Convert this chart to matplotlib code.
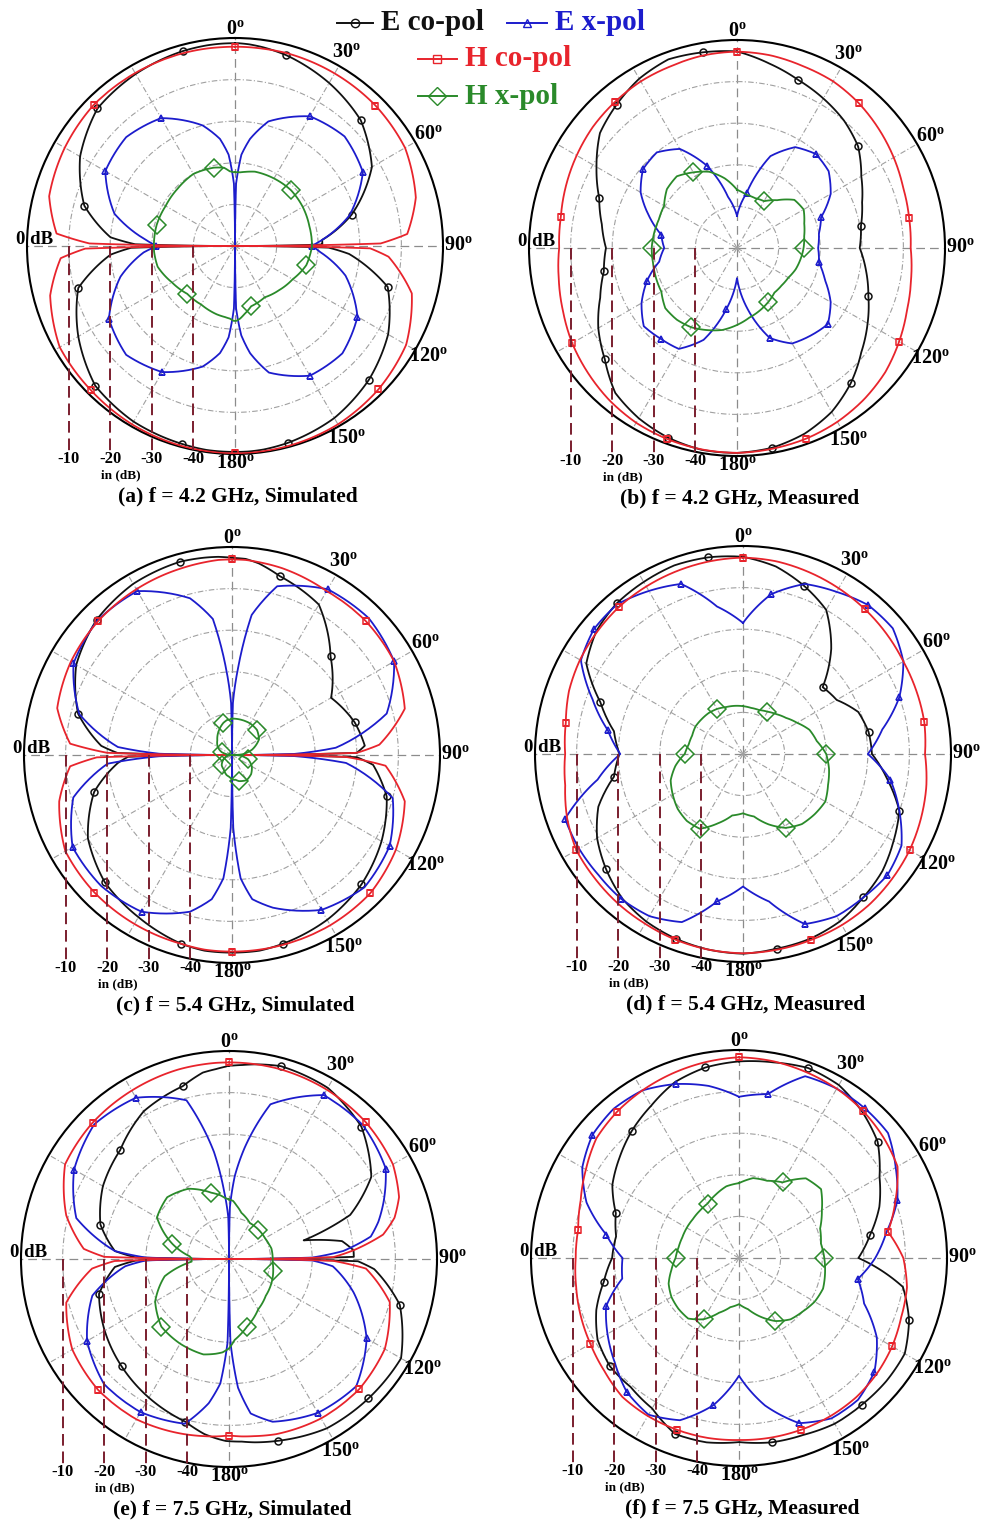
import numpy as np
import matplotlib
matplotlib.use("Agg")
import matplotlib.pyplot as plt
from matplotlib.lines import Line2D

plt.rcParams["font.family"] = ["Liberation Serif", "DejaVu Serif"]
plt.rcParams["font.weight"] = "bold"
plt.rcParams["mathtext.fontset"] = "custom"
plt.rcParams["mathtext.rm"] = "Liberation Serif:bold"

# ---------------- data (gain in dB, angle in degrees, clockwise from top) ----------------
sim_ang = [0, 1, 4, 8, 15, 30, 45, 60, 75, 86, 89, 90, 91, 94, 105, 120, 135, 150, 165, 172,
           176, 179, 180, 181, 184, 188, 195, 210, 225, 240, 255, 266, 269, 270, 271, 274, 285,
           300, 315, 330, 345, 352, 356, 359]
e_ang = [0, 1, 4, 8, 15, 30, 45, 60, 70, 76, 81, 86, 89, 90, 91, 94, 105, 120, 135, 150, 165,
         172, 176, 179, 180, 181, 184, 188, 195, 210, 225, 240, 255, 266, 269, 270, 271, 274,
         285, 300, 315, 330, 345, 352, 356, 359]
meas_ang = list(range(0, 360, 10))

# (a) 4.2 GHz simulated
a_eco = [-1.25, -1.25, -1.4, -1.75, -2.5, -4.75, -7.25, -12, -21, -29, -29, -50, -27.5, -22.5, -12,
         -7.5, -4.5, -2.25, -1, -0.6, -0.5, -0.5, -0.5, -0.5, -0.5, -0.5, -0.75, -1.25, -2.5, -6.5,
         -11, -20, -25, -50, -26, -20, -12.5, -7, -3.25, -2.25, -1.5, -1.3, -1.25, -1.25]
a_exp = [-50, -35, -28, -24, -19, -14, -12.75, -14.5, -21.5, -29, -31, -31.5, -31, -29.5, -22.5,
         -16, -13.5, -14, -18.5, -24, -28.5, -35, -50, -35, -28, -24, -20, -15, -13, -15,
         -21.5, -28, -30.5, -31, -30.5, -28.5, -20, -14, -13, -14.5, -20, -24, -28, -35]
a_hco = [-2.1, -2.1, -2.1, -2.1, -2, -2.1, -2.25, -2.8, -5, -8.5, -15, -50, -17.5, -13, -6,
         -2.5, -1.25, -0.5, -0.25, -0.2, -0.15, -0.15, -0.15, -0.15, -0.15, -0.2, -0.25, -0.5, -1, -1.35,
         -4, -8, -14, -50, -15, -7, -3.75, -2.75, -2, -2, -2, -2.05, -2.1, -2.1]
a_hxp = [-32.25, -32.25, -32.25, -32, -31.5, -31.25, -31, -31.2, -31.5, -31.5, -31.5, -31.5, -31.5, -31.7, -32.25,
         -34, -35, -35.75, -35, -33.5, -32.5, -32, -32, -32, -32.5, -32.75, -33, -33.75, -33.75, -32.5,
         -30.75, -30.5, -30.5, -30.5, -30.5, -30.5, -30.5, -30.75, -30.5, -30, -30.5, -31, -32, -32.25]

# (b) 4.2 GHz measured
b_eco = [-2.75, -5, -7, -8.5, -10, -12, -15.5, -18, -19.75, -20.5, -18.5, -16.4, -13.75, -11, -7.5, -4.5,
         -2.5, -1.25, -0.75, -0.75, -1.5, -2.75, -4.5, -8.5, -11.5, -15, -17.5, -18.5, -17, -14.75,
         -11, -7, -5, -3, -1.75, -2.25]
b_exp = [-42.25, -36.5, -26.5, -22, -20.5, -21.25, -24, -28.5, -30, -30.5, -30, -27.5, -24, -21.5, -22.5, -23.5,
         -27, -35, -42.75, -35, -26.5, -22, -21.5, -20.75, -23.5, -27, -31, -32.5, -31.5, -27.5,
         -23.25, -20.5, -20, -22.5, -29, -37.5]
b_hco = [-2.8, -3, -3.5, -3.75, -4.5, -5.5, -6.5, -7.5, -8, -8.25, -7.5, -6.5, -5, -3.5, -2.5, -1.75,
         -1.25, -1, -0.75, -0.85, -1.1, -1.5, -2.25, -3.25, -4.25, -5.5, -6.5, -7.25, -7, -6.25,
         -5.5, -4.75, -4.25, -3.75, -3.5, -3]
b_hxp = [-36, -37, -37.25, -37, -35, -32, -31.5, -32.8, -33.6, -34, -34.5, -35, -35.75, -36, -36, -35,
         -34, -33, -31.5, -30, -29, -28, -27.5, -27.5, -29, -29.25, -29.5, -29.5, -29.75, -30,
         -29.75, -28, -27.5, -29, -30.5, -33]

# (c) 5.4 GHz simulated
c_eco = [-2.65, -2.65, -2.75, -3.5, -5.5, -8.25, -16.5, -22.5, -19.5, -18, -20, -50, -20, -16, -11.5,
         -8.5, -6, -4.25, -3, -2.5, -2.5, -2.5, -2.5, -2.5, -2.5, -2.5, -3, -5, -6.75, -10,
         -15.7, -22.5, -25, -50, -22.5, -18.5, -11.7, -6.75, -4, -2.5, -1.9, -2.1, -2.25, -2.5]
c_exp = [-50, -37.5, -29, -16, -8, -4, -3.5, -5, -11.5, -25, -35, -50, -35, -22.5, -10,
         -6.25, -5, -7, -12, -15, -20.3, -32.5, -50, -32.5, -20.3, -15, -11, -6.5, -5.5, -5.75,
         -10.5, -20, -32.5, -50, -32.5, -22.5, -12, -6, -4.25, -4.5, -11, -17, -29, -37.5]
c_hco = [-3, -3, -3, -3.2, -3.5, -4.5, -4.5, -5, -7, -14.5, -20, -50, -22.5, -13, -7,
         -4.5, -3, -2.75, -2.75, -2.75, -2.75, -2.75, -2.75, -2.75, -2.75, -2.75, -3, -3.1, -3.25, -3.75,
         -7, -11, -17.5, -50, -20, -11, -6.5, -5.25, -4.5, -4, -3.5, -3.2, -3, -3]
c_hxp = [-41.25, -41.25, -41.25, -41.25, -41.25, -41.25, -41.5, -42.5, -45, -47.5, -49, -50, -49, -48, -46,
         -44.5, -43.5, -43, -43.5, -44, -44, -44.25, -44.25, -44.25, -44.5, -44.75, -45, -46, -46.5, -47.5,
         -48.5, -49.5, -50, -50, -50, -49.5, -47.5, -46, -45, -43.5, -42, -41.5, -41.5, -41.25]

# (d) 5.4 GHz measured
d_eco = [-2.6, -4.25, -7, -10, -17, -25, -24, -20.5, -19.35, -19, -14.75, -10, -8.2, -6.25, -5, -3.5,
         -2.75, -2.5, -2, -2.25, -2.75, -3.5, -4.75, -7, -9.5, -13, -18.5, -20.3, -18.5, -13.5,
         -6.5, -4, -2.75, -2.25, -1.75, -2]
d_exp = [-18.5, -11, -6.5, -5, -3.25, -3, -5.5, -10, -16, -20, -14, -10, -6, -4.7, -5, -5,
         -6.5, -14, -18.15, -14, -7, -5, -4.5, -4.7, -4.5, -4.5, -14.5, -20.5, -17, -11.5,
         -5, -3.25, -3, -4.75, -6.5, -14]
d_hco = [-2.8, -3, -3.5, -4, -4.5, -5, -5.5, -5.65, -5.75, -6.25, -5.25, -4.5, -3.75, -3.25, -2.75, -2.5,
         -2.4, -2.25, -2.1, -2.25, -2.5, -2.9, -3.15, -3.5, -3.75, -5, -6.6, -7.25, -6.75, -5.5,
         -4.75, -4.25, -3.75, -3.5, -3.25, -3]
d_hxp = [-38.5, -38.75, -38.75, -38.25, -37.5, -36.5, -35, -33, -32, -30, -29, -28.25, -27.15, -27.5, -28, -29.5,
         -32, -34.75, -35.75, -35, -32.25, -29.25, -29, -29.5, -30.5, -31.5, -33.5, -36, -36.75, -37,
         -36.8, -37, -37.15, -37.5, -38, -38.25]

# (e) 7.5 GHz simulated
e_eco = [-3.5, -3.5, -3.25, -2.75, -2, -2.5, -5, -10.5, -19, -31.5, -22.5, -20, -20, -50, -19,
         -15, -7.5, -2.25, -2.6, -3, -4.75, -5.5, -6, -6.15, -6.2, -6.25, -6.75, -7.5, -9.5, -11.5,
         -13.5, -15.5, -17.65, -22.5, -27.5, -50, -27.5, -22.5, -18, -15, -13, -9, -7, -4.75, -4.25, -3.75]
e_exp = [-50, -37.5, -30, -23, -11.5, -4.5, -4.5, -6.5, -10.5, -13, -15.5, -22.5, -30, -50, -30,
         -25, -19, -11.8, -6.75, -7.3, -9.5, -12.5, -19, -30, -50, -30, -20, -15, -9, -7.5,
         -7.5, -10.6, -16, -25, -30, -50, -30, -22.5, -12, -7, -4.2, -5.25, -10.5, -24, -34, -40]
e_hco = [-2.75, -2.75, -2.75, -2.75, -2.75, -3, -3.5, -4.5, -6.5, -9, -12.5, -20, -25, -50, -25,
         -17, -10, -6.75, -5.75, -5.75, -6.4, -7, -7.25, -7.5, -7.5, -7.5, -7.25, -7, -6.5, -5.5,
         -5.5, -6.5, -9.5, -17, -22.5, -50, -20, -15, -9.5, -4.5, -3.65, -3.25, -2.85, -2.8, -2.75, -2.75]
e_hxp = [-35.7, -35.75, -36, -37, -38.5, -40, -40, -40, -39.75, -39.5, -39.5, -39.5, -39.5, -39.5, -39.5,
         -39.5, -39, -38.25, -37.5, -36, -33.2, -31.5, -30.5, -29, -28.5, -28.25, -27.5, -27, -26.25, -26.5,
         -27, -29.5, -34, -41, -41, -41, -41, -40.5, -35.9, -30, -29, -30.5, -33.5, -34.5, -35.25, -35.6]

# (f) 7.5 GHz measured
f_eco = [-2.75, -2.25, -1.4, -2, -4, -6.5, -11, -14.1, -18, -21.3, -10, -6.5, -4, -3.85, -4, -4,
         -4.75, -5, -5.75, -5, -5, -8.25, -9.5, -9.5, -10.75, -13.5, -17, -19.5, -20, -18.5,
         -14.85, -12.5, -10, -7.75, -5, -3.5]
f_exp = [-11.25, -10, -3.5, -3, -3, -3.25, -6.5, -9.5, -14, -17.25, -21, -18, -11.75, -7.5, -5.5, -5.5,
         -7.75, -14, -21.7, -14, -8.5, -6.5, -8, -11, -13.5, -16, -21.5, -22, -17.6, -11,
         -6.5, -4, -3.15, -3.5, -5.5, -8]
f_hco = [-1.75, -2, -2.5, -3, -3.75, -4.75, -6, -10, -13.65, -10.5, -9, -8.5, -7.5, -6.75, -6.25, -6.1,
         -6.1, -6.15, -6.25, -6.1, -6.1, -6.15, -6.4, -7.75, -8.75, -9.5, -10.25, -10.75, -10.75, -9.5,
         -7.5, -5.25, -4.25, -3.5, -2.85, -2.25]
f_hxp = [-32, -30.5, -30.25, -29, -25, -24.25, -27, -29.25, -30, -29.5, -29, -28.5, -29, -30, -30.75, -32.5,
         -35, -37.5, -38.9, -38, -36, -33, -31, -31, -31.25, -32, -33.5, -34.75, -35.25, -35.5,
         -35.5, -35.5, -35.25, -34.9, -33.75, -32.5]

ring_db = [-10, -20, -30, -40]
angle_ticks = [0, 30, 60, 90, 120, 150, 180]
captions = ["(a) f = 4.2 GHz, Simulated", "(b) f = 4.2 GHz, Measured",
            "(c) f = 5.4 GHz, Simulated", "(d) f = 5.4 GHz, Measured",
            "(e) f = 7.5 GHz, Simulated", "(f) f = 7.5 GHz, Measured"]
legend_names = ["E co-pol", "E x-pol", "H co-pol", "H x-pol"]

# ---------------- layout / style ----------------
W, H, R = 987, 1522, 208
centers = [(235, 246), (737, 248), (232, 755), (743, 754), (229, 1259), (739, 1258)]

C_ECO = "#111111"
C_EXP = "#1c1ccc"
C_HCO = "#e8242c"
C_HXP = "#2a8a2a"
MAROON = "#7a1e2e"
GRID = "#a0a0a0"

fig = plt.figure(figsize=(W / 100, H / 100), dpi=100)
fig.patch.set_facecolor("white")


def pick(ang, vals, step, off):
    # marker positions: every `step` degrees, skipping points sitting in the centre
    return [i for i, (a, v) in enumerate(zip(ang, vals)) if a % step == off and v > -49]


def polar_panel(center, ang, eco, exp_, hco, hxp, caption, meas):
    cx, cy = center
    ax = fig.add_axes([(cx - R) / W, 1 - (cy + R) / H, 2 * R / W, 2 * R / H], projection="polar")
    ax.set_theta_zero_location("N")
    ax.set_theta_direction(-1)
    ax.set_ylim(-50, 0)
    ax.set_yticks(ring_db)
    ax.set_yticklabels([])
    ax.set_xticks(np.radians([30, 60, 120, 150, 210, 240, 300, 330]))
    ax.set_xticklabels([])
    ax.grid(True, color=GRID, lw=0.8, ls=(0, (5, 2, 1, 2)))
    ax.spines["polar"].set_linewidth(1.5)
    ax.spines["polar"].set_color("black")
    for t in (0, 90, 180, 270):
        ax.plot([np.radians(t)] * 2, [-50, 0], color="#8c8c8c", lw=0.9, ls=(0, (7, 4)), zorder=1)

    if meas:
        steps = [(30, 20), (30, 10), (40, 0), (60, 30)]
    else:
        steps = [(30, 15), (30, 0), (45, 0), (60, 45)]
    styles = [(eco, C_ECO, "o", 5), (exp_, C_EXP, "^", 5), (hco, C_HCO, "s", 5), (hxp, C_HXP, "D", 9)]
    th = np.radians(np.append(ang, 360))
    for (vals, col, mk, ms), (st, off) in zip(styles, steps):
        v = np.append(vals, vals[0])
        ln, = ax.plot(th, v, color=col, lw=1.3, zorder=3)
        # let the polar projection draw each segment along (theta, r) instead of as a chord
        ln.get_path()._interpolation_steps = 16
        idx = pick(ang, vals, st, off)
        ax.plot(th[idx], v[idx], ls="none", marker=mk, ms=ms, mfc="none", mec=col, mew=1.1, zorder=3)

    # dB scale: dashed verticals from the left half of the horizontal axis
    for d in ring_db:
        x = 0.5 - 0.5 * (d + 50) / 50
        ax.plot([x, x], [0.5, 0.0], transform=ax.transAxes, color=MAROON, lw=1.4,
                ls=(0, (6, 3)), clip_on=False, zorder=4)
        ax.text(x, 0.007, str(d), transform=ax.transAxes, ha="center", va="top", fontsize=12)
    ax.text(0.225, -0.037, "in (dB)", transform=ax.transAxes, ha="center", va="top", fontsize=9.5)
    ax.text(0.018, 0.515, "0 dB", transform=ax.transAxes, ha="center", va="center", fontsize=13.5)

    for t in angle_ticks:
        rr = 2.0 if t == 0 else (2.5 if t == 180 else 3.6)
        ax.text(np.radians(t), rr, f"{t}$^{{\\mathrm{{o}}}}$", ha="center", va="center",
                fontsize=14.5, clip_on=False)

    fig.text((cx + 3) / W, 1 - (cy + 250) / H, caption, ha="center", va="center", fontsize=15.5)


panels = [
    (sim_ang, a_eco, a_exp, a_hco, a_hxp, False),
    (meas_ang, b_eco, b_exp, b_hco, b_hxp, True),
    (sim_ang, c_eco, c_exp, c_hco, c_hxp, False),
    (meas_ang, d_eco, d_exp, d_hco, d_hxp, True),
    (e_ang, e_eco, e_exp, e_hco, e_hxp, False),
    (meas_ang, f_eco, f_exp, f_hco, f_hxp, True),
]
for center, cap, (ang, eco, exp_, hco, hxp, meas) in zip(centers, captions, panels):
    polar_panel(center, ang, eco, exp_, hco, hxp, cap, meas)

# legend drawn by hand at the top centre
legend_pos = [(337, 373, 23), (507, 547, 23), (418, 457, 59), (418, 457, 96)]
legend_style = [(C_ECO, "o", 6), (C_EXP, "^", 6), (C_HCO, "s", 6), (C_HXP, "D", 9)]
for name, (x0, x1, y), (col, mk, ms) in zip(legend_names, legend_pos, legend_style):
    yy = 1 - y / H
    fig.add_artist(Line2D([x0 / W, (x0 + x1) / 2 / W, x1 / W], [yy] * 3, transform=fig.transFigure,
                          color=col, lw=1.4, marker=mk, ms=ms, mfc="none", mec=col, markevery=[1]))
    fig.text((x1 + 8) / W, yy, name, color=col, ha="left", va="center", fontsize=21)

fig.savefig("out.png", dpi=100, facecolor="white")
